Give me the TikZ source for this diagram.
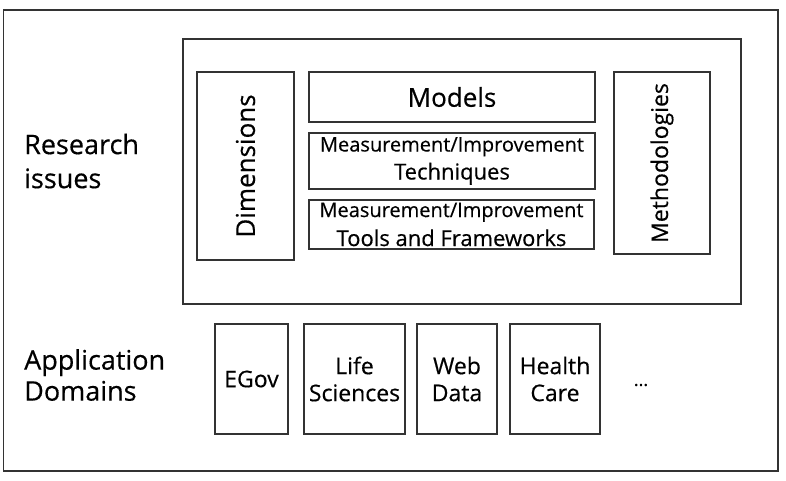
\documentclass[tikz,border=0pt]{standalone}
\usepackage{fontspec}
\setmainfont{Open Sans}[FakeBold=0.4]
\begin{document}
\begin{tikzpicture}[x=1pt,y=-1pt,
  frame/.style={draw=black!80,line width=1.3pt},
  box/.style={draw=black!80,line width=1.2pt,inner sep=0pt,align=center,text=black},
  lbl/.style={inner sep=0pt,align=left,text=black}]
\useasboundingbox (0,0) rectangle (786,480);
\fill[white] (0,0) rectangle (786,480);
% outer and inner frames
\draw[frame] (3.5,10) rectangle (778,471);
\draw[frame] (183,39) rectangle (741,304);
% left labels
\node[lbl,anchor=west,font=\fontsize{27}{34}\selectfont] (ri) at (24,161) {Research\\issues};
\node[lbl,anchor=west,font=\fontsize{27}{31}\selectfont] (ad) at (24,375) {Application\\Domains};
% research boxes
\node[box,minimum width=97pt,minimum height=188pt] (dim) at (245.5,166) {};
\node[rotate=90,font=\fontsize{26}{30}\selectfont,inner sep=0pt] (dimt) at (dim.center) {Dimensions};
\node[box,minimum width=286pt,minimum height=50pt,font=\fontsize{26}{30}\selectfont] (models) at (452,97) {Models};
\node[box,minimum width=286pt,minimum height=56pt,font=\fontsize{20}{28}\selectfont] (tech) at (452,161) {Measurement/Improvement\\{\fontsize{22}{28}\selectfont Techniques}};
\node[box,minimum width=285pt,minimum height=49pt,font=\fontsize{20}{29}\selectfont] (tools) at (451.5,224.5) {Measurement/Improvement\\{\fontsize{22}{29}\selectfont Tools and Frameworks}};
\node[box,minimum width=96pt,minimum height=182pt] (meth) at (662,163) {};
\node[rotate=90,font=\fontsize{23}{30}\selectfont,inner sep=0pt] (metht) at (meth.center) {Methodologies};
% domain boxes
\node[box,minimum width=73pt,minimum height=110pt,font=\fontsize{23}{27}\selectfont] (egov) at (251.5,379) {EGov};
\node[box,minimum width=101pt,minimum height=110pt,font=\fontsize{23}{27}\selectfont] (life) at (354.5,379) {Life\\Sciences};
\node[box,minimum width=80pt,minimum height=110pt,font=\fontsize{23}{27}\selectfont] (web) at (457,379) {Web\\Data};
\node[box,minimum width=90pt,minimum height=110pt,font=\fontsize{23}{27}\selectfont] (health) at (555,379) {Health\\Care};
\node[inner sep=0pt,font=\fontsize{18}{20}\selectfont] (dots) at (641,385) {...};
\end{tikzpicture}
\end{document}
